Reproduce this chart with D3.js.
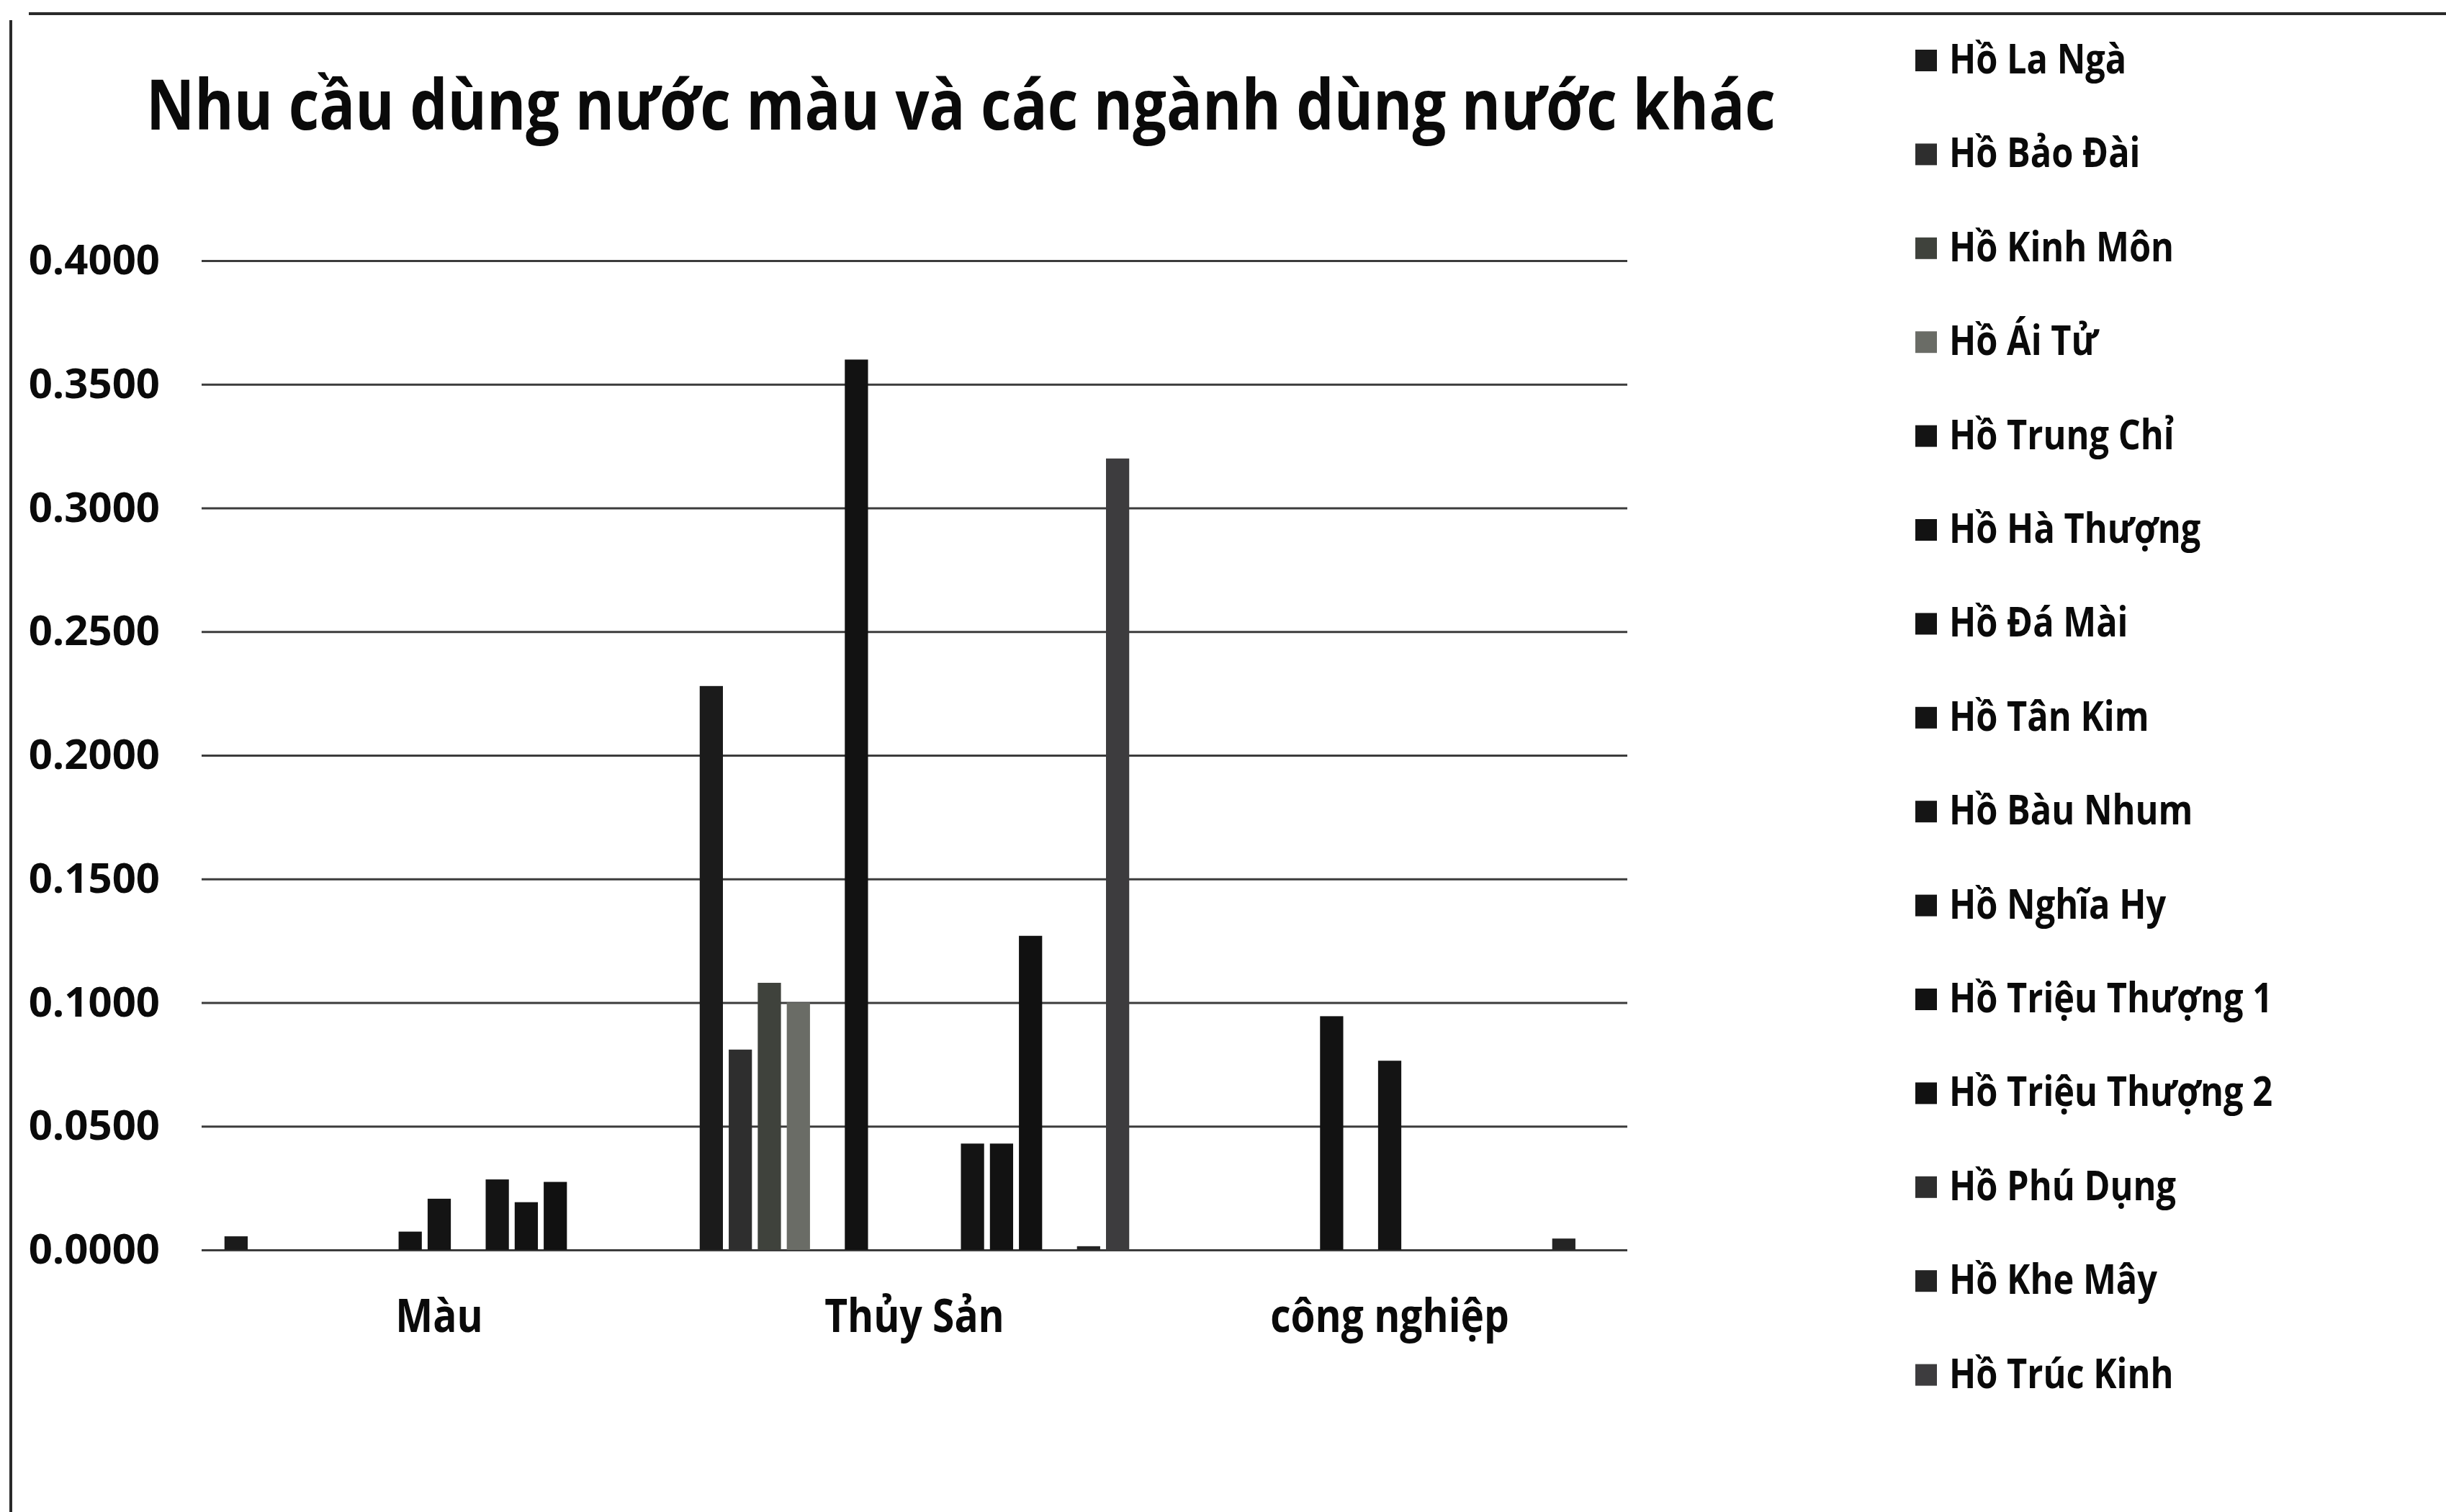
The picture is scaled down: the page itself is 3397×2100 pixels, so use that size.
<!DOCTYPE html>
<html>
<head>
<meta charset="utf-8">
<script src="https://cdn.jsdelivr.net/npm/d3@7"></script>
<style>
  html, body { margin: 0; padding: 0; background: #ffffff; }
  svg { display: block; }
</style>
</head>
<body>
<script>
// Water demand (per lake) for crops, aquaculture and industry
const chartTitle = "Nhu cầu dùng nước màu và các ngành dùng nước khác";
const categories = ["Màu", "Thủy Sản", "công nghiệp"];
const seriesNames = [
  "Hồ La Ngà", "Hồ Bảo Đài", "Hồ Kinh Môn", "Hồ Ái Tử", "Hồ Trung Chỉ",
  "Hồ Hà Thượng", "Hồ Đá Mài", "Hồ Tân Kim", "Hồ Bàu Nhum", "Hồ Nghĩa Hy",
  "Hồ Triệu Thượng 1", "Hồ Triệu Thượng 2", "Hồ Phú Dụng", "Hồ Khe Mây", "Hồ Trúc Kinh"
];
// one value per category: [Màu, Thủy Sản, công nghiệp]
const laNga        = [0.0055, 0.228, 0];
const baoDai       = [0, 0.081, 0];
const kinhMon      = [0, 0.108, 0];
const aiTu         = [0, 0.100, 0];
const trungChi     = [0, 0, 0];
const haThuong     = [0, 0.360, 0.0945];
const daMai        = [0.0074, 0, 0];
const tanKim       = [0.0207, 0, 0.0765];
const bauNhum      = [0, 0, 0];
const nghiaHy      = [0.0285, 0.043, 0];
const trieuThuong1 = [0.0193, 0.043, 0];
const trieuThuong2 = [0.0275, 0.127, 0];
const phuDung      = [0, 0, 0];
const kheMay       = [0, 0.0015, 0.0046];
const trucKinh     = [0, 0.320, 0];
const seriesValues = [laNga, baoDai, kinhMon, aiTu, trungChi, haThuong, daMai, tanKim,
  bauNhum, nghiaHy, trieuThuong1, trieuThuong2, phuDung, kheMay, trucKinh];
const yTicks = [0, 0.05, 0.10, 0.15, 0.20, 0.25, 0.30, 0.35, 0.40];

// grey-scale print palette, one shade per lake
const palette = ["#1b1b1b", "#2e2e2e", "#3f423c", "#6a6c66", "#141414",
  "#121212", "#131313", "#141414", "#151515", "#141414",
  "#121212", "#111111", "#2f2f2f", "#242424", "#3d3c3e"];

const W = 3397, H = 2100;
const FONT = "'Open Sans', 'Noto Sans', sans-serif";

const svg = d3.select("body").append("svg")
  .attr("width", W).attr("height", H)
  .attr("viewBox", `0 0 ${W} ${H}`);

svg.append("rect").attr("width", W).attr("height", H).attr("fill", "#ffffff");

// chart frame edges
svg.append("line").attr("x1", 40).attr("x2", W).attr("y1", 19).attr("y2", 19)
  .attr("stroke", "#2a2a2a").attr("stroke-width", 4);
svg.append("line").attr("x1", 15).attr("x2", 15).attr("y1", 28).attr("y2", H)
  .attr("stroke", "#2a2a2a").attr("stroke-width", 4);

// horizontally condense text to a Calibri-like width
function condense(sel, k) {
  sel.each(function () {
    const L = this.getComputedTextLength();
    d3.select(this).attr("textLength", L * k).attr("lengthAdjust", "spacingAndGlyphs");
  });
}

// title: sized to its width, then stretched vertically to keep the cap height
const titleWidth = 2263, titleSize = 97;
const title = svg.append("text")
  .attr("x", 0).attr("y", 0)
  .attr("font-family", FONT).attr("font-size", titleSize).attr("font-weight", 700)
  .attr("fill", "#0a0a0a")
  .text(chartTitle);
const natural = title.node().getComputedTextLength();
const k = titleWidth / natural;
title.attr("font-size", titleSize * k)
  .attr("transform", `translate(203,180) scale(1,${1 / k})`);

// scales
const plotLeft = 280, plotRight = 2260;
const y = d3.scaleLinear().domain([0, 0.4]).range([1736, 362]);
const x0 = d3.scaleBand().domain(categories).range([plotLeft, plotRight])
  .paddingInner(0.084).paddingOuter(0.042);
const x1 = d3.scaleBand().domain(d3.range(seriesNames.length)).range([0, x0.bandwidth()])
  .paddingInner(0.2).paddingOuter(0.1);

// gridlines
const yAxis = d3.axisLeft(y).tickValues(yTicks).tickFormat(d3.format(".4f"))
  .tickSize(-(plotRight - plotLeft)).tickPadding(58);
const gy = svg.append("g").attr("transform", `translate(${plotLeft},0)`).call(yAxis);
gy.select(".domain").remove();
gy.selectAll(".tick line").attr("stroke", "#3c3c3c").attr("stroke-width", 3);
gy.selectAll(".tick text")
  .attr("font-family", FONT).attr("font-size", 58).attr("font-weight", 700)
  .attr("fill", "#0a0a0a").attr("dy", "0.32em");

// bars
const groups = svg.append("g").selectAll("g")
  .data(categories).join("g")
  .attr("transform", c => `translate(${x0(c)},0)`);

groups.selectAll("rect")
  .data((c, ci) => seriesValues.map((vals, si) => ({ si, v: vals[ci] })).filter(d => d.v > 0))
  .join("rect")
  .attr("x", d => x1(d.si))
  .attr("width", x1.bandwidth())
  .attr("y", d => y(d.v))
  .attr("height", d => y(0) - y(d.v))
  .attr("fill", d => palette[d.si]);

// category labels
const xAxis = d3.axisBottom(x0).tickSize(0).tickPadding(0);
const gx = svg.append("g").attr("transform", `translate(0,${y(0)})`).call(xAxis);
gx.select(".domain").remove();
gx.selectAll(".tick text")
  .attr("font-family", FONT).attr("font-size", 64).attr("font-weight", 700)
  .attr("fill", "#0a0a0a").attr("y", 114).attr("dy", 0)
  .call(condense, 0.86);

// legend
const legend = svg.append("g").attr("transform", "translate(2658,0)");
const rowY = d3.scaleLinear().domain([0, 1]).range([102, 232.4]);
const items = legend.selectAll("g").data(seriesNames).join("g")
  .attr("transform", (d, i) => `translate(0,${rowY(i)})`);
items.append("rect")
  .attr("x", 2).attr("y", -33).attr("width", 30).attr("height", 30)
  .attr("fill", (d, i) => palette[i]);
items.append("text")
  .attr("x", 49).attr("y", 0)
  .attr("font-family", FONT).attr("font-size", 58).attr("font-weight", 700)
  .attr("fill", "#0a0a0a")
  .text(d => d)
  .call(condense, 0.84);
</script>
</body>
</html>
